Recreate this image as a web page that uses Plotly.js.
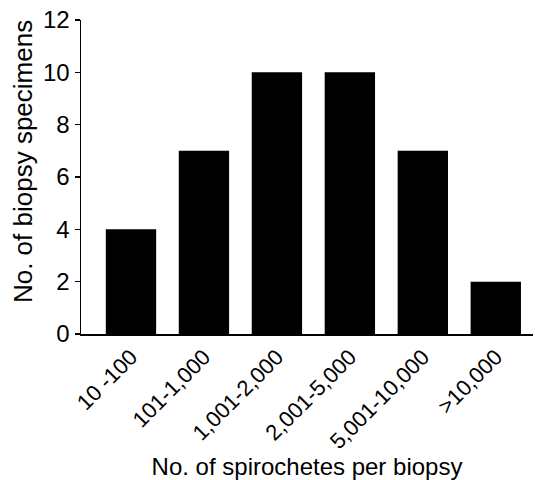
<!DOCTYPE html>
<html><head><meta charset="utf-8">
<script src="https://cdn.plot.ly/plotly-3.0.1.min.js"></script>
<style>html,body{margin:0;padding:0;background:#fff}#c{width:535px;height:480px}</style>
</head><body><div id="c"></div>
<script>
const categories = ["10 -100", "101-1,000", "1,001-2,000", "2,001-5,000", "5,001-10,000", ">10,000"];
const counts = [4, 7, 10, 10, 7, 2];
const yTicks = [0, 2, 4, 6, 8, 10, 12];

const font = "Liberation Sans, Arial, sans-serif";
Plotly.newPlot("c", [{
  type: "bar", x: categories, y: counts,
  marker: {color: "#000"}, hoverinfo: "none"
}], {
  width: 535, height: 480,
  margin: {l: 81, r: 2, t: 20, b: 146},
  bargap: 0.31,
  paper_bgcolor: "#fff", plot_bgcolor: "#fff",
  font: {family: font, color: "#000", size: 18},
  xaxis: {
    range: [-0.685, 5.51], showline: true, linecolor: "#000", linewidth: 1.5,
    ticks: "", tickangle: -45, showgrid: false, zeroline: false,
    tickfont: {size: 22},
    automargin: false,
    title: {text: "No. of spirochetes per biopsy", font: {size: 24}, standoff: 6}
  },
  yaxis: {
    range: [0, 12], tickvals: yTicks, showline: true, linecolor: "#000", linewidth: 1.5,
    ticks: "outside", ticklen: 5, tickwidth: 1.5, tickcolor: "#000",
    showgrid: false, zeroline: false, tickfont: {size: 24},
    automargin: false
  },
  annotations: [{
    text: "No. of biopsy specimens", textangle: -90, showarrow: false,
    xref: "paper", yref: "paper", x: -0.128, y: 0.548,
    xanchor: "center", yanchor: "middle", font: {size: 26}
  }],
  showlegend: false
}, {staticPlot: true});
</script></body></html>
